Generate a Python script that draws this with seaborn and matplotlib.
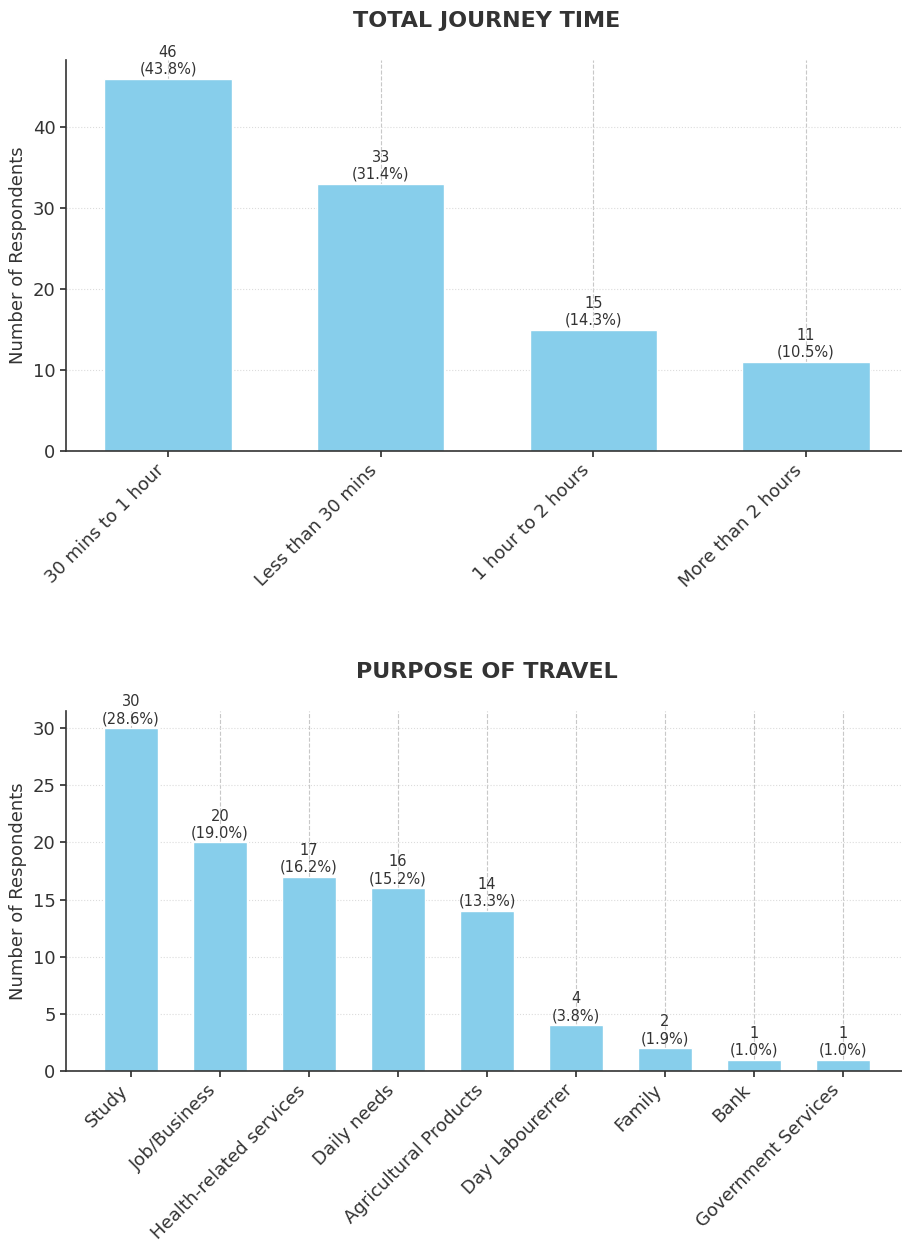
import matplotlib
matplotlib.use("Agg")
import matplotlib.pyplot as plt
import seaborn as sns
import pandas as pd

# Survey results
journey_labels = ["30 mins to 1 hour", "Less than 30 mins", "1 hour to 2 hours", "More than 2 hours"]
journey_counts = [46, 33, 15, 11]

purpose_labels = ["Study", "Job/Business", "Health-related services", "Daily needs",
                  "Agricultural Products", "Day Labourerrer", "Family", "Bank",
                  "Government Services"]
purpose_counts = [30, 20, 17, 16, 14, 4, 2, 1, 1]

total_respondents = 105

sns.set_theme(style="white")
plt.rcParams["font.family"] = ["DejaVu Sans"]

BAR_COLOR = "#87CEEB"
TEXT_COLOR = "#333333"

fig = plt.figure(figsize=(9.02, 12.4), dpi=100)
ax_top = fig.add_axes([66 / 902, 1 - 451 / 1240, 842 / 902, 391 / 1240])
ax_bot = fig.add_axes([66 / 902, 1 - 1071 / 1240, 842 / 902, 360 / 1240])


def draw_panel(ax, labels, counts, title, yticks):
    df = pd.DataFrame({"category": labels, "count": counts})
    sns.barplot(data=df, x="category", y="count", color=BAR_COLOR,
                width=0.6, saturation=1, ax=ax, zorder=2)
    n = len(labels)
    pad = 0.3 + 0.05 * (n - 1 + 0.6)
    ax.set_xlim(-pad, n - 1 + pad)
    ax.set_ylim(0, max(counts) * 1.05)
    ax.set_yticks(yticks)

    ax.grid(axis="x", linestyle="--", color="#c8c8c8", linewidth=0.8, zorder=0)
    ax.grid(axis="y", linestyle=":", color="#dcdcdc", linewidth=0.8, zorder=0)
    ax.set_axisbelow(True)

    for i, c in enumerate(counts):
        ax.annotate(f"{c}\n({c / total_respondents * 100:.1f}%)", (i, c),
                    xytext=(0, 1.5), textcoords="offset points",
                    ha="center", va="bottom", fontsize=10.5, color=TEXT_COLOR,
                    linespacing=1.15)

    ax.set_title(title, fontsize=16, fontweight="bold", color=TEXT_COLOR, pad=24)
    ax.set_xlabel("")
    ax.set_ylabel("Number of Respondents", fontsize=13, color=TEXT_COLOR)
    ax.tick_params(axis="y", labelsize=13, colors=TEXT_COLOR, length=4, left=True)
    ax.tick_params(axis="x", labelsize=13, colors=TEXT_COLOR, length=4, bottom=True)
    plt.setp(ax.get_xticklabels(), rotation=45, ha="right")

    for side in ["top", "right"]:
        ax.spines[side].set_visible(False)
    for side in ["left", "bottom"]:
        ax.spines[side].set_color(TEXT_COLOR)
        ax.spines[side].set_linewidth(1.2)


draw_panel(ax_top, journey_labels, journey_counts, "TOTAL JOURNEY TIME", [0, 10, 20, 30, 40])
draw_panel(ax_bot, purpose_labels, purpose_counts, "PURPOSE OF TRAVEL", [0, 5, 10, 15, 20, 25, 30])

fig.savefig("out.png", dpi=100)
